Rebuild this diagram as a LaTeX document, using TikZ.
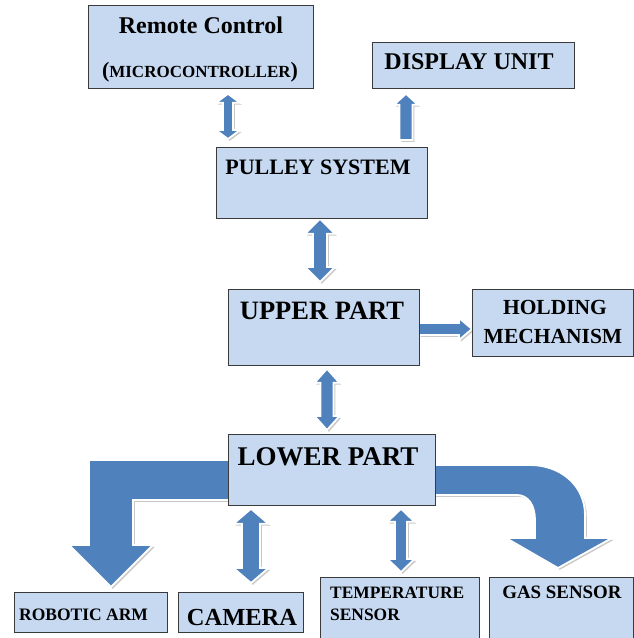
\documentclass[tikz,border=0pt]{standalone}
\usepackage{fontspec}
\setmainfont{Liberation Serif}
\usetikzlibrary{calc,shadows}
\pgfdeclarelayer{back}
\pgfsetlayers{back,main}
\definecolor{arrowblue}{HTML}{4F81BD}
\definecolor{boxfill}{HTML}{C6D9F1}
\definecolor{boxline}{HTML}{3A3A3A}
\newcommand\fs[1]{\fontsize{#1}{#1}\selectfont\bfseries}
% vertical double block arrow: #1 top tip, #2 bottom tip, #3 shaft half, #4 head half, #5 head length
\newcommand\vdbl[5]{\path[barrow] let \p1=#1, \p2=#2 in
 (\x1,\y1) -- ({\x1+#4pt},{\y1-#5pt}) -- ({\x1+#3pt},{\y1-#5pt}) -- ({\x1+#3pt},{\y2+#5pt}) -- ({\x1+#4pt},{\y2+#5pt}) -- (\x1,\y2) -- ({\x1-#4pt},{\y2+#5pt}) -- ({\x1-#3pt},{\y2+#5pt}) -- ({\x1-#3pt},{\y1-#5pt}) -- ({\x1-#4pt},{\y1-#5pt}) -- cycle;}
\begin{document}
\begin{tikzpicture}[x=1pt,y=-1pt,
  box/.style={draw=boxline, fill=boxfill, line width=0.8pt, inner sep=0pt, anchor=north west},
  txt/.style={inner sep=0pt, anchor=base, text=black},
  barrow/.style={fill=arrowblue, draw=white, line width=1.8pt, line join=miter,
     drop shadow={shadow xshift=1.8pt, shadow yshift=-1.8pt, fill=gray!70, opacity=0.6}}]
\useasboundingbox (0,0) rectangle (634,638);
\clip (0,0) rectangle (634,638);
\begin{pgfonlayer}{back}
\fill[white] (0,0) rectangle (634,638);
\end{pgfonlayer}
% boxes
\node[box, minimum width=225pt, minimum height=83pt] (rc) at (88,5) {};
\node[box, minimum width=202pt, minimum height=46pt] (du) at (372,42) {};
\node[box, minimum width=211pt, minimum height=71pt] (ps) at (216,147) {};
\node[box, minimum width=191pt, minimum height=76pt] (up) at (228,289) {};
\node[box, minimum width=161pt, minimum height=67pt] (hm) at (472,289) {};
\node[box, minimum width=207pt, minimum height=71pt] (lp) at (228,434) {};
\node[box, minimum width=153pt, minimum height=40pt] (ra) at (14,592) {};
\node[box, minimum width=125pt, minimum height=40pt] (cam) at (178,592) {};
\node[box, minimum width=159pt, minimum height=70pt] (ts) at (320,577) {};
\node[box, minimum width=144pt, minimum height=70pt] (gs) at (489,577) {};
% texts
\node[txt, font=\fs{24}] (t1) at ($(rc.north west)+(113,28)$) {Remote Control};
\node[txt] (t2) at ($(rc.north west)+(112,72)$) {\fs{22}(\fs{17}MICROCONTROLLER\fs{22})};
\node[txt, font=\fs{24}] (t3) at ($(du.north west)+(97,27)$) {DISPLAY UNIT};
\node[txt, font=\fs{22}] (t4) at ($(ps.north west)+(102,27)$) {PULLEY SYSTEM};
\node[txt, font=\fs{26.5}] (t5) at ($(up.north west)+(94,30)$) {UPPER PART};
\node[txt, font=\fs{21.5}] (t6) at ($(hm.north west)+(83,25)$) {HOLDING};
\node[txt, font=\fs{21.5}] (t7) at ($(hm.north west)+(81,54)$) {MECHANISM};
\node[txt, font=\fs{27}] (t8) at ($(lp.north west)+(100,31)$) {LOWER PART};
\node[txt, font=\fs{17.5}, anchor=base west] (t9) at ($(ra.north west)+(5,28)$) {ROBOTIC ARM};
\node[txt, font=\fs{24.5}] (t10) at ($(cam.north west)+(64,33)$) {CAMERA};
\node[txt, font=\fs{17.4}, anchor=base west] (t11) at ($(ts.north west)+(10,21)$) {TEMPERATURE};
\node[txt, font=\fs{17.4}, anchor=base west] (t12) at ($(ts.north west)+(10,43)$) {SENSOR};
\node[txt, font=\fs{18.9}] (t13) at ($(gs.north west)+(73,21)$) {GAS SENSOR};
% arrows (behind the boxes)
\begin{pgfonlayer}{back}
\vdbl{($(rc.south west)+(140,5)$)}{($(ps.north west)+(12,-8)$)}{5}{12}{9}
\path[barrow] let \p1=($(du.south west)+(34,5)$), \p2=($(ps.north west)+(190,-7)$) in
  (\x1,\y1) -- ({\x1+12pt},{\y1-11pt}) -- ({\x1+6.5pt},{\y1-11pt}) -- ({\x1+6.5pt},\y2) -- ({\x1-6.5pt},\y2) -- ({\x1-6.5pt},{\y1-11pt}) -- ({\x1-12pt},{\y1-11pt}) -- cycle;
\vdbl{($(ps.south west)+(104,0)$)}{($(up.north west)+(92,-7)$)}{7}{15}{15}
\path[barrow] let \p1=($(up.north east)+(-1,40)$), \p2=(hm.west) in
  (\x1,{\y1+6pt}) -- ({\x2-13pt},{\y1+6pt}) -- ({\x2-13pt},{\y1+11pt}) -- (\x2,\y1) -- ({\x2-13pt},{\y1-11pt}) -- ({\x2-13pt},{\y1-6pt}) -- (\x1,{\y1-6pt}) -- cycle;
\vdbl{($(up.south west)+(99,3)$)}{($(lp.north west)+(99,-4)$)}{6.5}{12.5}{14}
\vdbl{($(lp.south west)+(23,3)$)}{($(cam.north west)+(73,-9)$)}{9}{17.5}{15}
\vdbl{($(lp.south west)+(173,3)$)}{($(ts.north west)+(81,-5)$)}{6}{13.5}{13}
% robotic arm bent arrow
\path[barrow] let \p1=($(lp.north west)+(4,0)$), \p2=($(ra.north west)+(97,-5)$) in
  (\x1,{\y1-26pt}) -- ({\x2-22pt},{\y1-26pt}) -- ({\x2-22pt},{\y2+42pt}) -- ({\x2-42pt},{\y2+42pt}) -- (\x2,\y2) -- ({\x2+42pt},{\y2+42pt}) -- ({\x2+22pt},{\y2+42pt}) -- ({\x2+22pt},{\y1-66pt}) -- (\x1,{\y1-66pt}) -- cycle;
% gas sensor curved arrow
\path[barrow] let \p1=($(lp.north east)+(-4,0)$), \p2=($(gs.north west)+(69,-9)$) in
  (\x1,{\y2+103pt}) -- ({\x2-28pt},{\y2+103pt}) .. controls ({\x2+2pt},{\y2+103pt}) and ({\x2+27pt},{\y2+83pt}) .. ({\x2+27pt},{\y2+53pt})
  -- ({\x2+27pt},{\y2+30pt}) -- ({\x2+54pt},{\y2+30pt}) -- (\x2,\y2) -- ({\x2-52pt},{\y2+30pt}) -- ({\x2-23pt},{\y2+30pt})
  -- ({\x2-23pt},{\y2+48pt}) .. controls ({\x2-23pt},{\y2+63pt}) and ({\x2-30pt},{\y2+73pt}) .. ({\x2-41pt},{\y2+73pt}) -- (\x1,{\y2+73pt}) -- cycle;
\end{pgfonlayer}
\end{tikzpicture}
\end{document}
